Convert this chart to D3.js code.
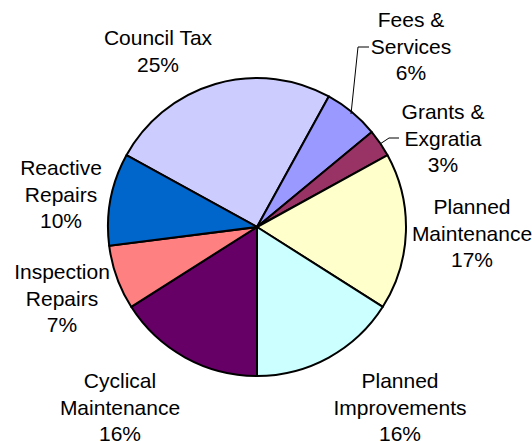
<!DOCTYPE html>
<html>
<head>
<meta charset="utf-8">
<script src="https://cdn.jsdelivr.net/npm/d3@7"></script>
<style>
  html, body { margin: 0; padding: 0; background: #fff; }
  svg { display: block; }
  text { font-family: "Liberation Sans", Arial, sans-serif; font-size: 21px; fill: #000; }
</style>
</head>
<body>
<svg id="chart" width="532" height="441"></svg>
<script>
// ---- data ----
const categories = ["Council Tax", "Fees & Services", "Grants & Exgratia", "Planned Maintenance",
                    "Planned Improvements", "Cyclical Maintenance", "Inspection Repairs", "Reactive Repairs"];
const labelLines = [["Council Tax"], ["Fees &", "Services"], ["Grants &", "Exgratia"], ["Planned", "Maintenance"],
                    ["Planned", "Improvements"], ["Cyclical", "Maintenance"], ["Inspection", "Repairs"], ["Reactive", "Repairs"]];
const values = [25, 6, 3, 17, 16, 16, 7, 10];
const colors = ["#CCCCFF", "#9999FF", "#993366", "#FFFFCC", "#CCFFFF", "#660066", "#FF8080", "#0066CC"];

// ---- layout ----
const cx = 257, cy = 227, r = 149;
const lineH = 26.5;
// label centre x and first baseline y
const labelPos = [[158, 45], [411, 27], [443, 119], [472, 214], [400, 388], [120, 388], [62, 279], [61, 175]];
const leaders = { 1: [[351, 114], [358, 47], [369, 47]], 2: [[380, 144], [389, 138], [399, 138]] };

const svg = d3.select("#chart");
const start = -0.34 * Math.PI;
const pie = d3.pie().sort(null).value(d => d).startAngle(start).endAngle(start + 2 * Math.PI);
const arc = d3.arc().innerRadius(0).outerRadius(r);
const arcs = pie(values);

const g = svg.append("g").attr("transform", `translate(${cx},${cy})`);
g.selectAll("path").data(arcs).join("path")
  .attr("d", arc)
  .attr("fill", (d, i) => colors[i])
  .attr("stroke", "#000")
  .attr("stroke-width", 2)
  .attr("stroke-linejoin", "round");

const total = d3.sum(values);
const fmt = v => Math.round(v / total * 100) + "%";

categories.forEach((c, i) => {
  const [x, y] = labelPos[i];
  const lines = labelLines[i].concat([fmt(values[i])]);
  const t = svg.append("text").attr("text-anchor", "middle");
  lines.forEach((l, j) => {
    t.append("tspan").attr("x", x).attr("y", y + j * lineH).text(l);
  });
});

Object.entries(leaders).forEach(([k, pts]) => {
  svg.append("path")
    .attr("d", d3.line()(pts))
    .attr("fill", "none")
    .attr("stroke", "#000")
    .attr("stroke-width", 1);
});
</script>
</body>
</html>
